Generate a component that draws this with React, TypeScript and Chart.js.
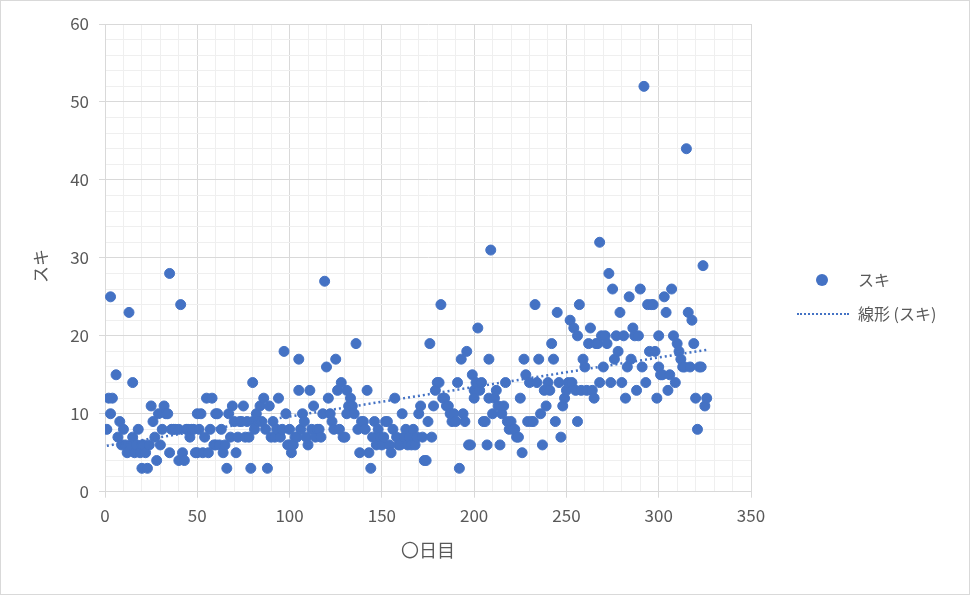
import { useEffect, useRef } from 'react';
import { Chart, registerables } from 'chart.js';

Chart.register(...registerables);

// day number (x) and スキ count (y)
const days = [
  1, 2, 3, 3, 4, 6, 7, 8, 9, 10,
  11, 12, 13, 14, 15, 15, 16, 17, 18, 19, 20, 20,
  21, 22, 23, 24, 25, 26, 27, 28, 29, 30,
  31, 32, 33, 34, 35, 35, 36, 37, 38, 40, 40,
  41, 42, 43, 44, 45, 46, 47, 48, 49, 50, 50,
  51, 52, 53, 54, 55, 56, 57, 58, 59, 60, 60,
  61, 62, 63, 64, 65, 66, 67, 68, 69, 70,
  71, 72, 73, 74, 75, 76, 77, 78, 79, 80, 80,
  81, 82, 83, 84, 85, 86, 87, 88, 89, 90,
  91, 92, 93, 94, 95, 96, 97, 98, 99, 100, 100,
  101, 102, 103, 104, 105, 105, 106, 107, 108, 109, 110,
  111, 112, 113, 114, 115, 116, 117, 118, 119, 120,
  121, 122, 123, 124, 125, 126, 127, 128, 129, 130, 131, 131,
  132, 133, 134, 135, 136, 137, 138, 139, 140,
  141, 142, 143, 144, 145, 146, 147, 148, 149, 150,
  151, 152, 153, 154, 155, 156, 157, 158, 159, 160,
  161, 162, 163, 164, 165, 166, 167, 168, 169, 170,
  171, 172, 173, 174, 175, 176, 177, 178, 179, 180,
  181, 182, 183, 184, 185, 186, 187, 188, 189, 190,
  191, 192, 193, 194, 195, 196, 197, 198, 199, 200, 200,
  201, 202, 203, 204, 205, 206, 207, 208, 208, 209, 210,
  211, 212, 213, 214, 215, 216, 217, 218, 219, 220,
  221, 222, 223, 224, 225, 226, 227, 228, 229, 230,
  231, 232, 233, 234, 235, 236, 237, 238, 239, 240,
  241, 242, 243, 244, 245, 246, 247, 248, 249, 250,
  251, 252, 253, 254, 255, 256, 256, 257, 258, 259, 260,
  261, 262, 263, 264, 265, 266, 267, 268, 268, 269, 270,
  271, 272, 273, 274, 275, 276, 277, 278, 279, 280,
  281, 282, 283, 284, 285, 286, 287, 288, 289, 290,
  291, 292, 293, 294, 295, 296, 297, 298, 299, 300, 300,
  301, 302, 303, 304, 305, 306, 307, 308, 309, 310,
  311, 312, 313, 314, 315, 316, 317, 318, 319, 320, 321,
  322, 323, 324, 325, 326,
];

const suki = [
  8, 12, 10, 25, 12, 15, 7, 9, 6, 8,
  6, 5, 23, 6, 14, 7, 5, 6, 8, 5, 3, 6,
  6, 5, 3, 6, 11, 9, 7, 4, 10, 6,
  8, 11, 10, 10, 28, 5, 8, 8, 8, 8, 4,
  24, 5, 4, 8, 8, 7, 8, 8, 5, 10, 5,
  8, 10, 5, 7, 12, 5, 8, 12, 6, 10, 6,
  10, 6, 8, 5, 6, 3, 10, 7, 11, 9,
  5, 7, 9, 9, 11, 7, 9, 7, 3, 14, 9,
  8, 10, 9, 11, 9, 12, 8, 3, 11, 7,
  9, 7, 8, 12, 7, 8, 18, 10, 6, 6, 8,
  5, 6, 7, 7, 13, 17, 8, 10, 9, 7, 6,
  13, 8, 11, 7, 8, 8, 7, 10, 27, 16,
  12, 10, 9, 8, 17, 13, 8, 14, 7, 7, 13, 10,
  11, 12, 11, 10, 19, 8, 5, 9, 9,
  8, 13, 5, 3, 7, 9, 6, 8, 7, 6,
  7, 9, 9, 6, 5, 8, 12, 7, 6, 6,
  10, 7, 8, 6, 7, 6, 8, 6, 7, 10,
  11, 7, 4, 4, 9, 19, 7, 11, 13, 14,
  14, 24, 12, 12, 11, 11, 10, 9, 10, 9,
  14, 3, 17, 10, 9, 18, 6, 6, 15, 13, 12,
  14, 21, 13, 14, 9, 9, 6, 17, 12, 31, 10,
  12, 13, 11, 6, 10, 11, 14, 9, 8, 9,
  8, 8, 7, 7, 12, 5, 17, 15, 9, 14,
  9, 9, 24, 14, 17, 10, 6, 13, 11, 14,
  13, 19, 17, 9, 23, 14, 7, 11, 12, 13,
  14, 22, 14, 21, 13, 20, 9, 24, 13, 17, 16,
  13, 19, 21, 13, 12, 19, 19, 32, 14, 20, 16,
  20, 19, 28, 14, 26, 17, 20, 18, 23, 14,
  20, 12, 16, 25, 17, 21, 20, 13, 20, 26,
  16, 52, 14, 24, 18, 24, 24, 18, 12, 20, 16,
  15, 15, 25, 23, 13, 15, 26, 20, 14, 19,
  18, 17, 16, 16, 44, 23, 16, 22, 19, 12, 8,
  16, 16, 29, 11, 12,
];

// linear trendline ends, as drawn in the picture
const trendDays = [1, 326];
const trendValues = [5.9, 18.2];

const xTickLabels = [0, 50, 100, 150, 200, 250, 300, 350];
const yTickLabels = [0, 10, 20, 30, 40, 50, 60];

const BLUE = '#4472C4';
const TEXT = '#595959';
const MAJOR = '#d9d9d9';
const MINOR = '#efefef';
const FONT = '"Noto Sans CJK JP", "Noto Sans", sans-serif';

export default function App() {
  const canvasRef = useRef<HTMLCanvasElement>(null);

  useEffect(() => {
    if (!canvasRef.current) return;

    const chart = new Chart(canvasRef.current, {
      type: 'scatter',
      data: {
        datasets: [
          {
            label: '線形 (スキ)',
            data: trendDays.map((d, i) => ({ x: d, y: trendValues[i] })),
            showLine: true,
            borderColor: BLUE,
            borderWidth: 2.5,
            borderDash: [2, 3],
            pointRadius: 0,
          },
          {
            label: 'スキ',
            data: days.map((d, i) => ({ x: d, y: suki[i] })),
            backgroundColor: BLUE,
            borderColor: BLUE,
            borderWidth: 1,
            pointRadius: 5,
          },
        ],
      },
      options: {
        animation: false,
        responsive: false,
        layout: { padding: { left: 22, right: 219, top: 24, bottom: 0 } },
        plugins: {
          legend: { display: false },
          tooltip: { enabled: false },
        },
        scales: {
          x: {
            type: 'linear',
            min: 0,
            max: 350,
            afterFit: (s: any) => { s.height = 103.3; },
            ticks: {
              stepSize: 10,
              autoSkip: false,
              maxRotation: 0,
              padding: 8,
              color: TEXT,
              font: { family: FONT, size: 17 },
              callback: (v: any) => (xTickLabels.includes(v) ? String(v) : ''),
            },
            grid: {
              color: (ctx: any) => (ctx.tick && ctx.tick.value % 50 === 0 ? MAJOR : MINOR),
              tickColor: (ctx: any) => (ctx.tick && ctx.tick.value % 50 === 0 ? MAJOR : 'rgba(0,0,0,0)'),
              tickLength: 6,
            },
            border: { color: MAJOR },
            title: {
              display: true,
              text: '〇日目',
              color: TEXT,
              font: { family: FONT, size: 18 },
              padding: { top: 0, bottom: 34.2 },
            },
          },
          y: {
            type: 'linear',
            min: 0,
            max: 60,
            afterFit: (s: any) => { s.width = 83; },
            ticks: {
              stepSize: 2,
              autoSkip: false,
              padding: 10,
              color: TEXT,
              font: { family: FONT, size: 17 },
              callback: (v: any) => (yTickLabels.includes(v) ? String(v) : ''),
            },
            grid: {
              color: (ctx: any) => (ctx.tick && ctx.tick.value % 10 === 0 ? MAJOR : MINOR),
              tickColor: (ctx: any) => (ctx.tick && ctx.tick.value % 10 === 0 ? MAJOR : 'rgba(0,0,0,0)'),
              tickLength: 6,
            },
            border: { color: MAJOR },
          },
        },
      },
    });

    return () => chart.destroy();
  }, []);

  const legendText: React.CSSProperties = {
    position: 'absolute',
    left: 858,
    fontFamily: FONT,
    fontSize: 16,
    color: TEXT,
    lineHeight: '20px',
  };

  return (
    <div style={{ position: 'fixed', left: 0, top: 0, width: 970, height: 595, background: '#fff' }}>
      <canvas ref={canvasRef} width={970} height={595} style={{ position: 'absolute', left: 0, top: 0 }} />
      {/* y axis title */}
      <div
        style={{
          position: 'absolute',
          left: 40,
          top: 266,
          transform: 'translate(-50%, -50%) rotate(-90deg)',
          fontFamily: FONT,
          fontSize: 17,
          color: TEXT,
          whiteSpace: 'nowrap',
          lineHeight: '20px',
        }}
      >
        スキ
      </div>
      {/* legend */}
      <div style={{ position: 'absolute', left: 816, top: 274, width: 12, height: 12, borderRadius: '50%', background: BLUE }} />
      <div style={{ ...legendText, top: 269 }}>スキ</div>
      <div style={{ position: 'absolute', left: 797, top: 313, width: 52, height: 0, borderTop: `2.5px dotted ${BLUE}` }} />
      <div style={{ ...legendText, top: 303 }}>線形 (スキ)</div>
      {/* chart area border */}
      <div style={{ position: 'absolute', left: 0, top: 0, width: 968, height: 593, border: '1px solid #d9d9d9', pointerEvents: 'none' }} />
    </div>
  );
}
